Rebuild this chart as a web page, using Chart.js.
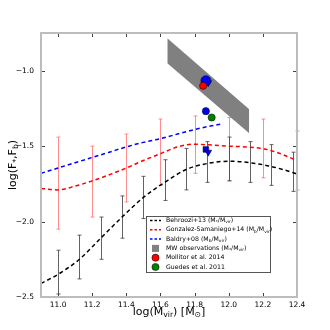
<!DOCTYPE html>
<html>
<head>
<meta charset="utf-8">
<script src="https://cdn.jsdelivr.net/npm/chart.js@4/dist/chart.umd.min.js"></script>
<style>html,body{margin:0;padding:0;background:#fff}</style>
</head>
<body>
<canvas id="c" width="330" height="330"></canvas>
<script>
'use strict';

const FONT = '"DejaVu Sans", sans-serif';

// Behroozi+13 (M*/Mvir)
const behrooziX = [10.9, 11.0, 11.125, 11.25, 11.375, 11.5, 11.625, 11.75, 11.875, 12.0, 12.125, 12.25, 12.375, 12.4];
const behrooziY = [-2.41, -2.35, -2.25, -2.11, -1.97, -1.84, -1.74, -1.655, -1.615, -1.60, -1.61, -1.635, -1.675, -1.685];
const behrooziErrX = [11.0, 11.125, 11.25, 11.375, 11.5, 11.625, 11.75, 11.875, 12.0, 12.125, 12.25, 12.375];
const behrooziErrLo = [-2.48, -2.38, -2.25, -2.11, -1.98, -1.86, -1.79, -1.74, -1.73, -1.74, -1.76, -1.80];
const behrooziErrHi = [-2.19, -2.09, -1.97, -1.83, -1.70, -1.59, -1.515, -1.47, -1.44, -1.47, -1.49, -1.54];

// Gonzalez-Samaniego+14
const gonzalezX = [10.9, 11.0, 11.1, 11.2, 11.3, 11.4, 11.5, 11.6, 11.7, 11.8, 11.9, 12.0, 12.1, 12.2, 12.3, 12.4];
const gonzalezY = [-1.78, -1.79, -1.765, -1.73, -1.69, -1.645, -1.595, -1.55, -1.505, -1.487, -1.493, -1.50, -1.505, -1.516, -1.549, -1.595];
const gonzalezErrX = [11.0, 11.2, 11.4, 11.6, 11.8, 12.0, 12.2, 12.4];
const gonzalezErrLo = [-2.05, -1.97, -1.87, -1.76, -1.68, -1.73, -1.71, -1.79];
const gonzalezErrHi = [-1.44, -1.50, -1.42, -1.32, -1.30, -1.31, -1.32, -1.40];

// Baldry+08
const baldryX = [10.9, 11.0, 11.1, 11.2, 11.3, 11.4, 11.5, 11.6, 11.7, 11.8, 11.9, 11.95];
const baldryY = [-1.68, -1.645, -1.61, -1.575, -1.54, -1.505, -1.475, -1.45, -1.42, -1.39, -1.365, -1.355];

// MW observations band
const mwX = [11.64, 12.12];
const mwUpper = [-0.785, -1.255];
const mwLower = [-0.95, -1.415];

// single measurements
const mollitorX = [11.85], mollitorY = [-1.10];
const guedesX = [11.90], guedesY = [-1.31];
const blueCircleX = [11.866, 11.866], blueCircleY = [-1.066, -1.268];
const blueTriX = [11.88, 11.88], blueTriY = [-1.08, -1.54];
const blueSquareX = [11.866], blueSquareY = [-1.522];

const xTicks = [11.0, 11.2, 11.4, 11.6, 11.8, 12.0, 12.2, 12.4];
const yTicks = [-2.5, -2.0, -1.5, -1.0];

function pts(xs, ys) { return xs.map(function(x, i) { return { x: x, y: ys[i] }; }); }

// text with _{sub} markup
function parseRich(s) {
  const parts = [];
  const re = /_\{([^}]*)\}/g;
  let last = 0, m;
  while ((m = re.exec(s))) {
    if (m.index > last) parts.push([s.slice(last, m.index), false]);
    parts.push([m[1], true]);
    last = re.lastIndex;
  }
  if (last < s.length) parts.push([s.slice(last), false]);
  return parts;
}
function richWidth(ctx, parts, size) {
  let w = 0;
  parts.forEach(function(p) {
    ctx.font = (p[1] ? size * 0.7 : size) + 'px ' + FONT;
    w += ctx.measureText(p[0]).width;
  });
  return w;
}
function drawRich(ctx, s, x, y, size, align) {
  const parts = parseRich(s);
  let cx = align === 'center' ? x - richWidth(ctx, parts, size) / 2 : x;
  ctx.textBaseline = 'middle';
  ctx.textAlign = 'left';
  parts.forEach(function(p) {
    ctx.font = (p[1] ? size * 0.7 : size) + 'px ' + FONT;
    ctx.fillText(p[0], cx, p[1] ? y + size * 0.3 : y);
    cx += ctx.measureText(p[0]).width;
  });
}

const errorSets = [
  { x: gonzalezErrX, lo: gonzalezErrLo, hi: gonzalezErrHi, color: 'rgba(255,80,80,0.65)' },
  { x: behrooziErrX, lo: behrooziErrLo, hi: behrooziErrHi, color: 'rgba(60,60,60,0.8)' }
];

const errorBars = {
  id: 'errorBars',
  beforeDatasetsDraw(chart) {
    const ctx = chart.ctx, sx = chart.scales.x, sy = chart.scales.y;
    ctx.save();
    ctx.lineWidth = 1;
    errorSets.forEach(function(e) {
      ctx.strokeStyle = e.color;
      e.x.forEach(function(xv, i) {
        const px = Math.round(sx.getPixelForValue(xv)) + 0.5;
        const y1 = sy.getPixelForValue(e.lo[i]), y2 = sy.getPixelForValue(e.hi[i]);
        ctx.beginPath();
        ctx.moveTo(px, y1); ctx.lineTo(px, y2);
        ctx.moveTo(px - 2, y1); ctx.lineTo(px + 2, y1);
        ctx.moveTo(px - 2, y2); ctx.lineTo(px + 2, y2);
        ctx.stroke();
      });
    });
    ctx.restore();
  }
};

const frame = {
  id: 'frame',
  afterDatasetsDraw(chart) {
    const ctx = chart.ctx, a = chart.chartArea, sx = chart.scales.x, sy = chart.scales.y;
    ctx.save();
    ctx.strokeStyle = '#444';
    ctx.lineWidth = 1;
    ctx.beginPath();
    xTicks.forEach(function(v) {
      const px = Math.round(sx.getPixelForValue(v)) + 0.5;
      ctx.moveTo(px, a.bottom); ctx.lineTo(px, a.bottom - 4);
      ctx.moveTo(px, a.top); ctx.lineTo(px, a.top + 4);
    });
    yTicks.forEach(function(v) {
      const py = Math.round(sy.getPixelForValue(v)) + 0.5;
      ctx.moveTo(a.left, py); ctx.lineTo(a.left + 4, py);
      ctx.moveTo(a.right, py); ctx.lineTo(a.right - 4, py);
    });
    ctx.stroke();
    ctx.strokeStyle = '#bdbdbd';
    ctx.lineWidth = 2;
    ctx.strokeRect(a.left, a.top, a.right - a.left, a.bottom - a.top);
    ctx.restore();
  },
  afterDraw(chart) {
    const ctx = chart.ctx, a = chart.chartArea;
    ctx.save();
    ctx.fillStyle = '#000';
    drawRich(ctx, 'log(M_{vir}) [M_{\u2299}]', (a.left + a.right) / 2, 312, 11, 'center');
    ctx.translate(13, (a.top + a.bottom) / 2);
    ctx.rotate(-Math.PI / 2);
    drawRich(ctx, 'log(F_{*},F_{b})', 0, 0, 11, 'center');
    ctx.restore();

    // legend
    const bx = 146.5, by = 216.5, bw = 124, bh = 56, row = 9.3;
    ctx.save();
    ctx.fillStyle = '#fff';
    ctx.fillRect(bx, by, bw, bh);
    ctx.strokeStyle = '#555';
    ctx.lineWidth = 1;
    ctx.strokeRect(bx, by, bw, bh);
    const items = chart.data.datasets.filter(function(d) { return d.legendKind; });
    items.forEach(function(d, i) {
      const y = by + 4 + i * row;
      if (d.legendKind === 'line') {
        ctx.strokeStyle = d.borderColor;
        ctx.lineWidth = 1.5;
        ctx.setLineDash([2.5, 2]);
        ctx.beginPath(); ctx.moveTo(150, y); ctx.lineTo(161, y); ctx.stroke();
        ctx.setLineDash([]);
      } else if (d.legendKind === 'box') {
        ctx.fillStyle = d.backgroundColor;
        ctx.fillRect(152, y - 3.5, 7, 7);
      } else {
        ctx.fillStyle = d.backgroundColor;
        ctx.strokeStyle = '#000';
        ctx.lineWidth = 0.5;
        ctx.beginPath(); ctx.arc(155.5, y, 3.6, 0, Math.PI * 2); ctx.fill(); ctx.stroke();
      }
      ctx.fillStyle = '#000';
      drawRich(ctx, d.label, 166, y, 6.2, 'left');
    });
    ctx.restore();
  }
};

const dashed = { borderWidth: 1.5, borderDash: [4, 3], pointRadius: 0, showLine: true, fill: false, cubicInterpolationMode: 'monotone' };

new Chart(document.getElementById('c'), {
  type: 'scatter',
  data: {
    datasets: [
      Object.assign({ label: 'Behroozi+13 (M_{*}/M_{vir})', legendKind: 'line', data: pts(behrooziX, behrooziY), borderColor: '#000', order: 3 }, dashed),
      Object.assign({ label: 'Gonzalez-Samaniego+14 (M_{b}/M_{vir})', legendKind: 'line', data: pts(gonzalezX, gonzalezY), borderColor: '#ff0000', order: 3 }, dashed),
      Object.assign({ label: 'Baldry+08 (M_{b}/M_{vir})', legendKind: 'line', data: pts(baldryX, baldryY), borderColor: '#0000ff', order: 3 }, dashed),
      { label: 'mw-upper', data: pts(mwX, mwUpper), showLine: true, borderWidth: 0, pointRadius: 0, fill: false, order: 6 },
      { label: 'MW observations (M_{*}/M_{vir})', legendKind: 'box', data: pts(mwX, mwLower), showLine: true, borderWidth: 0, pointRadius: 0,
        fill: '-1', backgroundColor: '#808080', order: 5 },
      { label: 'blue-circles', data: pts(blueCircleX, blueCircleY), pointRadius: [5, 3.6], backgroundColor: '#0000ff', borderColor: '#000', borderWidth: 0.5, order: 1 },
      { label: 'blue-tri', data: pts(blueTriX, blueTriY), pointStyle: 'triangle', rotation: 180, pointRadius: 4, backgroundColor: '#0000ff', borderColor: '#000', borderWidth: 0.5, order: 1 },
      { label: 'blue-square', data: pts(blueSquareX, blueSquareY), pointStyle: 'rect', pointRadius: 4, backgroundColor: '#0000ff', borderColor: '#000', borderWidth: 0.5, order: 1 },
      { label: 'Mollitor et al. 2014', legendKind: 'dot', data: pts(mollitorX, mollitorY), pointRadius: 3.6, backgroundColor: '#ff0000', borderColor: '#000', borderWidth: 0.5, order: 0 },
      { label: 'Guedes et al. 2011', legendKind: 'dot', data: pts(guedesX, guedesY), pointRadius: 3.6, backgroundColor: '#008000', borderColor: '#000', borderWidth: 0.5, order: 0 }
    ]
  },
  options: {
    responsive: false,
    animation: false,
    layout: { padding: { top: 33, right: 33, left: 0, bottom: 0 } },
    plugins: { legend: { display: false }, tooltip: { enabled: false } },
    scales: {
      x: {
        type: 'linear', min: 10.9, max: 12.4,
        afterFit: function(s) { s.height = 33; },
        afterBuildTicks: function(s) { s.ticks = xTicks.map(function(v) { return { value: v }; }); },
        grid: { display: false, drawTicks: false },
        border: { display: false },
        ticks: { padding: 4, color: '#000', font: { family: FONT, size: 7.5 }, maxRotation: 0,
          callback: function(v) { return v.toFixed(1); } }
      },
      y: {
        type: 'linear', min: -2.5, max: -0.75,
        afterFit: function(s) { s.width = 41; },
        afterBuildTicks: function(s) { s.ticks = yTicks.map(function(v) { return { value: v }; }); },
        grid: { display: false, drawTicks: false },
        border: { display: false },
        ticks: { padding: 7, color: '#000', font: { family: FONT, size: 7.5 },
          callback: function(v) { return v.toFixed(1).replace('-', '\u2212'); } }
      }
    }
  },
  plugins: [errorBars, frame]
});
</script>
</body>
</html>
